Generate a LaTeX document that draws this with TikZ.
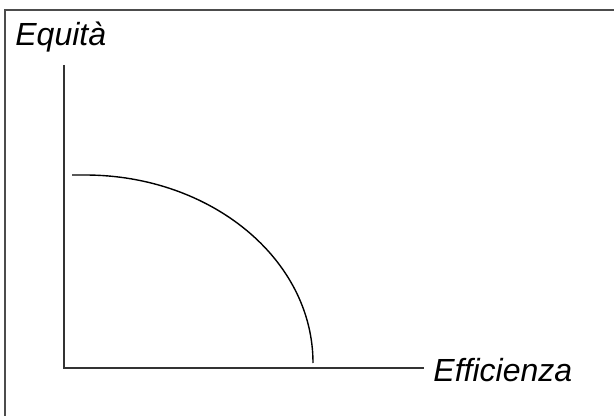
\documentclass[tikz,border=0pt]{standalone}
\usepackage{fontspec}
\setmainfont{Liberation Sans}
\usepackage{tikz}

\begin{document}
\begin{tikzpicture}[x=0.5pt,y=-0.5pt,
  axis/.style={line width=1pt,draw=black!80},
  lbl/.style={anchor=base west,inner sep=0pt,font=\fontsize{16}{19}\selectfont\itshape}]
\useasboundingbox (0,0) rectangle (614,416);
\draw[line width=1.3pt,draw=black!70] (5,416)--(5,10)--(614,10);
\coordinate (o) at (64,368);
\coordinate (ytop) at (64,65);
\coordinate (xend) at (424,368);
\draw[axis] (ytop)--(o)--(xend);
\node[lbl] (eq) at (15,46) {Equità};
\node[lbl] (ef) at (433,381) {Efficienza};
\coordinate (c0) at (72,175);
\draw[line width=0.7pt] (c0)--(85,175) arc[start angle=90,end angle=0,x radius=228,y radius=-188];
\end{tikzpicture}
\end{document}
